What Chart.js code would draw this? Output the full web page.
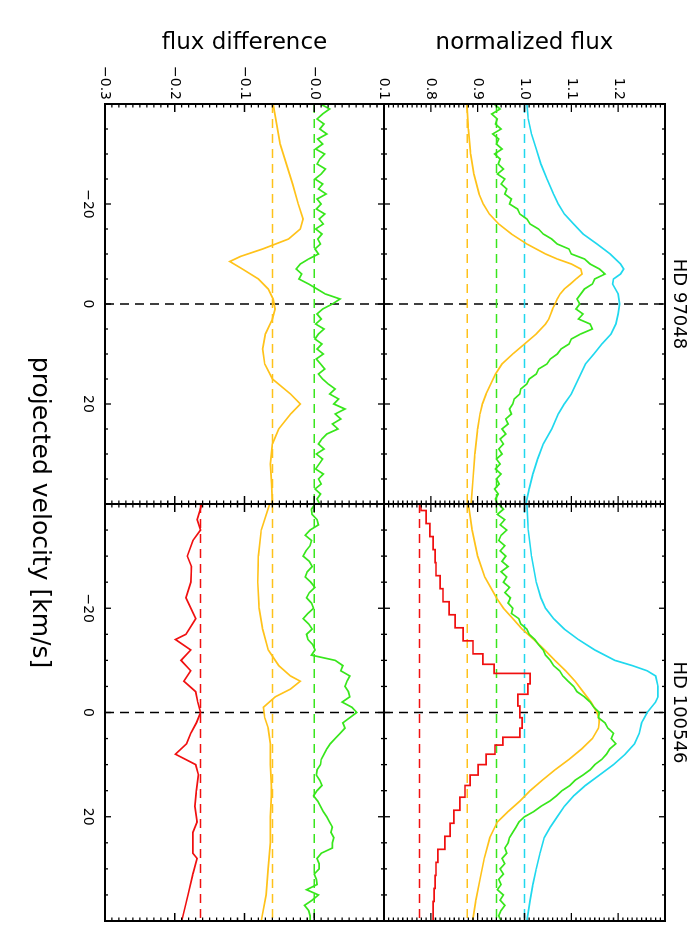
<!DOCTYPE html>
<html><head><meta charset="utf-8">
<script src="https://cdn.jsdelivr.net/npm/chart.js@4.4.0/dist/chart.umd.min.js"></script>
<style>
html,body{margin:0;padding:0;background:#fff;width:700px;height:950px;overflow:hidden}
#wrap{position:absolute;left:0;top:0;width:950px;height:700px;transform-origin:0 0;transform:translate(700px,0) rotate(90deg);background:#fff}
#wrap canvas{position:absolute;left:0;top:0}
</style></head><body>
<div id="wrap">
<canvas id="cA" width="950" height="700"></canvas>
<canvas id="cB" width="950" height="700"></canvas>
<canvas id="cC" width="950" height="700"></canvas>
<canvas id="cD" width="950" height="700"></canvas>
<canvas id="cE" width="950" height="700"></canvas>
</div>
<script>
// ---------------- data ----------------
const VMIN = -40, VMAX = 40;
const STAR_LEFT = 'HD 97048', STAR_RIGHT = 'HD 100546';
const Y_TITLE_TOP = 'normalized flux', Y_TITLE_BOTTOM = 'flux difference';
const X_TITLE = 'projected velocity [km/s]';

const VEL1 = [-40,-39,-38,-37,-36,-35,-34,-33,-32,-31,-30,-29,-28,-27,-26,-25,-24,-23,-22,-21,-20,-19,-18,-17,-16,-15,-14,-13,-12,-11,-10,-9,-8,-7,-6,-5,-4,-3,-2,-1,0,1,2,3,4,5,6,7,8,9,10,11,12,13,14,15,16,17,18,19,20,21,22,23,24,25,26,27,28,29,30,31,32,33,34,35,36,37,38,39,40];

// HD 97048 normalized flux
const cyanA_v = [-40,-37,-34,-31,-28,-25,-22,-20,-18,-16,-14,-12,-10,-8,-7,-6,-5,-4,-2,0,2,4,6,8,10,12,14,16,18,20,22,25,28,31,34,37,40];
const cyanA_f = [1.005,1.008,1.015,1.025,1.035,1.048,1.062,1.072,1.085,1.105,1.125,1.155,1.183,1.205,1.212,1.205,1.19,1.188,1.200,1.203,1.200,1.195,1.185,1.165,1.148,1.130,1.120,1.110,1.100,1.085,1.072,1.058,1.040,1.028,1.018,1.010,1.003];
const greenA_f = [0.935,0.948,0.930,0.942,0.938,0.950,0.932,0.945,0.940,0.952,0.936,0.948,0.944,0.955,0.942,0.958,0.950,0.962,0.958,0.972,0.968,0.985,0.990,1.005,1.012,1.030,1.040,1.058,1.070,1.095,1.100,1.128,1.140,1.160,1.172,1.150,1.145,1.128,1.120,1.112,1.118,1.110,1.125,1.115,1.140,1.145,1.120,1.100,1.095,1.078,1.070,1.055,1.048,1.030,1.025,1.010,1.005,0.992,0.990,0.978,0.975,0.968,0.972,0.960,0.965,0.952,0.960,0.948,0.955,0.945,0.952,0.940,0.948,0.938,0.950,0.940,0.946,0.936,0.944,0.938,0.942];
const orangeA_v = [-40,-35,-30,-26,-22,-20,-18,-16,-14,-12,-10,-9,-8,-7,-6,-5,-4,-3,-2,-1,0,1,2,3,4,5,6,8,10,12,14,16,18,20,22,25,30,35,40];
const orangeA_f = [0.877,0.880,0.885,0.892,0.903,0.912,0.925,0.945,0.972,1.005,1.045,1.070,1.100,1.120,1.123,1.110,1.098,1.085,1.076,1.070,1.065,1.060,1.056,1.052,1.045,1.035,1.025,1.000,0.975,0.952,0.938,0.928,0.918,0.910,0.905,0.900,0.894,0.890,0.886];

// HD 100546 normalized flux
const cyanB_v = [-40,-35,-30,-25,-22,-20,-18,-16,-14,-12,-10,-9,-8,-7,-5,-3,-2,0,2,4,6,8,10,12,14,16,18,20,22,24,27,30,33,36,40];
const cyanB_f = [1.005,1.008,1.015,1.025,1.035,1.045,1.062,1.085,1.115,1.150,1.193,1.230,1.262,1.280,1.285,1.285,1.280,1.262,1.250,1.245,1.235,1.215,1.190,1.160,1.130,1.105,1.085,1.070,1.055,1.042,1.033,1.025,1.018,1.012,1.005];
const greenB_f = [0.945,0.955,0.942,0.958,0.948,0.962,0.950,0.945,0.958,0.948,0.960,0.952,0.965,0.950,0.962,0.955,0.968,0.958,0.970,0.965,0.975,0.972,0.988,0.992,1.005,1.010,1.022,1.030,1.040,1.045,1.055,1.062,1.075,1.082,1.093,1.105,1.112,1.128,1.140,1.148,1.160,1.158,1.172,1.178,1.190,1.185,1.195,1.182,1.175,1.165,1.150,1.140,1.125,1.108,1.097,1.080,1.068,1.054,1.035,1.020,1.000,0.988,0.982,0.975,0.968,0.965,0.958,0.962,0.952,0.958,0.948,0.955,0.945,0.950,0.942,0.955,0.948,0.958,0.950,0.945,0.950];
const orangeB_v = [-40,-35,-30,-26,-22,-20,-18,-16,-14,-12,-10,-8,-6,-4,-2,0,1.5,3,5,7,9,11,13,15,17,19,21,24,28,32,36,40];
const orangeB_f = [0.880,0.888,0.900,0.915,0.940,0.955,0.975,0.995,1.020,1.043,1.065,1.088,1.108,1.125,1.142,1.155,1.160,1.158,1.145,1.122,1.095,1.065,1.038,1.012,0.990,0.965,0.942,0.926,0.914,0.905,0.896,0.889];
const redB_v = [-40,-37.5,-35,-32.5,-30,-27.5,-25,-22.5,-20,-17.5,-15,-12.5,-10,-8.5,-6.5,-4.5,-2.5,0,2,4,5.5,7,9,11,13,15,17.5,20,22.5,25,27.5,30,32.5,35,37.5,40];
const redB_f = [0.779,0.790,0.798,0.805,0.809,0.811,0.820,0.826,0.839,0.852,0.869,0.890,0.911,0.935,1.012,1.007,0.986,0.990,0.995,0.990,0.954,0.937,0.918,0.901,0.884,0.873,0.862,0.849,0.841,0.830,0.815,0.811,0.809,0.807,0.805,0.805];

// HD 97048 flux difference
const greenC_d = [0.009,0.022,0.012,0.004,0.014,0.008,0.018,0.005,0.012,0.002,0.015,0.008,0.004,0.016,0.010,0.001,0.012,0.006,0.017,0.004,0.010,0.003,0.015,0.007,0.013,0.002,0.011,0.005,0.009,0.001,0.006,-0.008,-0.020,-0.026,-0.018,-0.022,-0.008,0.004,0.016,0.037,0.026,0.012,0.004,0.010,0.002,0.014,0.006,0.001,0.011,0.004,0.013,0.003,0.009,0.015,0.006,0.012,0.020,0.030,0.022,0.035,0.028,0.044,0.030,0.038,0.026,0.034,0.018,0.011,0.006,0.014,0.003,0.012,0.007,0.002,0.013,0.006,0.010,0.001,0.009,0.004,0.008];
const orangeC_v = [-40,-36,-32,-28,-24,-20,-17,-15,-13,-11,-9.5,-8.5,-7,-5,-3,-1,1,3,6,9,12,15,18,20,22,25,28,32,36,40];
const orangeC_d = [-0.059,-0.054,-0.049,-0.040,-0.031,-0.023,-0.016,-0.020,-0.037,-0.074,-0.106,-0.121,-0.103,-0.080,-0.066,-0.059,-0.056,-0.060,-0.070,-0.074,-0.071,-0.060,-0.034,-0.020,-0.034,-0.051,-0.060,-0.063,-0.061,-0.060];

// HD 100546 flux difference
const greenD_d = [0.001,-0.004,-0.003,0.004,0.006,-0.006,-0.013,-0.004,-0.006,-0.012,-0.016,-0.007,-0.003,-0.010,-0.013,-0.005,0.001,-0.007,-0.011,-0.004,-0.001,-0.009,-0.016,-0.008,-0.003,-0.011,-0.009,-0.002,0.001,-0.004,0.030,0.041,0.038,0.051,0.047,0.044,0.049,0.051,0.040,0.054,0.061,0.051,0.041,0.044,0.037,0.030,0.023,0.018,0.014,0.010,0.009,0.004,0.003,0.008,0.011,0.004,-0.001,0.005,0.009,0.013,0.018,0.022,0.026,0.024,0.028,0.026,0.026,0.010,0.004,0.007,0.007,0.000,0.003,0.004,-0.011,0.006,-0.003,-0.014,-0.008,-0.006,-0.006];
const orangeD_v = [-40,-35,-30,-25,-20,-16,-12,-9,-7,-6,-4.5,-3,-1,1,3,6,10,15,20,25,30,35,40];
const orangeD_d = [-0.064,-0.076,-0.080,-0.081,-0.079,-0.074,-0.066,-0.051,-0.034,-0.020,-0.034,-0.056,-0.073,-0.071,-0.066,-0.063,-0.063,-0.061,-0.063,-0.063,-0.066,-0.069,-0.076];
const redD_v = [-40,-37,-35,-33,-30,-28,-25,-22,-18,-15,-14,-12,-10,-8,-6,-4,-2,0,2,4,6,8,10,12,15,18,21,23,27,28,31,35,40];
const redD_d = [-0.161,-0.168,-0.163,-0.174,-0.182,-0.176,-0.177,-0.184,-0.170,-0.184,-0.199,-0.177,-0.191,-0.177,-0.187,-0.170,-0.167,-0.163,-0.169,-0.177,-0.183,-0.199,-0.170,-0.166,-0.169,-0.171,-0.168,-0.174,-0.174,-0.168,-0.174,-0.181,-0.190];

// continuum / reference levels
const refTop = { cyan: 1.0, green: 0.94, orange: 0.878, red: 0.776 };
const refBottom = { green: 0.0, orange: -0.06, red: -0.163 };
const FLUX_RANGE = [0.7, 1.3], DIFF_RANGE = [-0.3, 0.1];

// ---------------- styling ----------------
const COL = { cyan: '#20d8ee', green: '#38e61c', orange: '#ffc21a', red: '#f01010' };
Chart.defaults.font.family = "'DejaVu Sans', sans-serif";
Chart.defaults.color = '#000';
Chart.defaults.animation = false;
Chart.defaults.events = [];
Chart.defaults.plugins.legend.display = false;
Chart.defaults.plugins.tooltip.enabled = false;

function pts(vs, ys) { return vs.map((v, i) => ({ x: v, y: ys[i] })); }
function curve(vs, ys, color, extra) {
  return Object.assign({ data: pts(vs, ys), borderColor: color, borderWidth: 1.7, pointRadius: 0, fill: false, tension: 0 }, extra || {});
}
function hline(y, color) {
  return { data: [{ x: VMIN, y: y }, { x: VMAX, y: y }], borderColor: color, borderWidth: 1.5, borderDash: [9, 6], pointRadius: 0 };
}
function vzero(r) {
  return { data: [{ x: 0, y: r[0] }, { x: 0, y: r[1] }], borderColor: '#000', borderWidth: 1.5, borderDash: [9, 6], pointRadius: 0 };
}
const isMajor01 = v => Math.abs(v * 10 - Math.round(v * 10)) < 1e-6;
const minus = s => s.replace('-', '\u2212');

const framePlugin = {
  id: 'idlFrame',
  afterDatasetsDraw(chart, args, o) {
    const { ctx, chartArea: a } = chart;
    const xs = chart.scales.x, ys = chart.scales.y;
    ctx.save();
    ctx.strokeStyle = '#000';
    ctx.lineWidth = 1.3;
    ctx.beginPath();
    xs.ticks.forEach(t => {
      const p = xs.getPixelForValue(t.value);
      const L = (Math.abs(t.value % 20) < 1e-6) ? o.xMajor : o.xMinor;
      ctx.moveTo(p, a.bottom); ctx.lineTo(p, a.bottom - L);
      ctx.moveTo(p, a.top); ctx.lineTo(p, a.top + L);
    });
    ys.ticks.forEach(t => {
      const p = ys.getPixelForValue(t.value);
      const L = isMajor01(t.value) ? o.yMajor : o.yMinor;
      ctx.moveTo(a.left, p); ctx.lineTo(a.left + L, p);
      ctx.moveTo(a.right, p); ctx.lineTo(a.right - L, p);
    });
    ctx.stroke();
    ctx.lineWidth = 2;
    ctx.strokeRect(a.left, a.top, a.right - a.left, a.bottom - a.top);
    ctx.restore();
  }
};

function velLabel(v) {
  if (Math.abs(v) >= 40 || v % 20 !== 0) return '';
  return v < 0 ? '\u2212' + Math.abs(v) : String(v);
}
function fluxLabel(v) {
  if (!isMajor01(v)) return '';
  const k = Math.round(v * 10);
  if (k <= 7 || k >= 13) return '';
  return (k / 10).toFixed(1);
}
function diffLabel(v) {
  if (!isMajor01(v)) return '';
  const k = Math.round(v * 10);
  if (k === 0) return '\u22120.0';
  return minus((k / 10).toFixed(1));
}

function panel(id, c) {
  return new Chart(document.getElementById(id), {
    type: 'line',
    data: { datasets: c.datasets },
    plugins: [framePlugin],
    options: {
      responsive: false,
      layout: { padding: c.padding },
      plugins: {
        title: c.title ? { display: true, text: c.title, fullSize: false, color: '#000',
          font: { size: 18, weight: 'normal' }, padding: { top: 10.2, bottom: 3.2 } } : { display: false },
        idlFrame: { xMajor: 6, xMinor: 3, yMajor: 8, yMinor: 3.5 }
      },
      scales: {
        x: {
          type: 'linear', min: VMIN, max: VMAX,
          grid: { display: false, drawTicks: false }, border: { display: false },
          ticks: { display: c.xLabels, stepSize: 5, autoSkip: false, maxRotation: 0, minRotation: 0,
            padding: 8.6, font: { size: 14 }, callback: velLabel },
          afterFit: s => { s.height = c.xh; }
        },
        y: {
          type: 'linear', min: c.yr[0], max: c.yr[1],
          grid: { display: false, drawTicks: false }, border: { display: false },
          ticks: { display: !!c.yLabel, stepSize: 0.01, maxTicksLimit: 1000, autoSkip: false,
            padding: 4, font: { size: 14 }, callback: c.yLabel || (() => '') },
          title: { display: !!c.yTitle, text: c.yTitle || '', font: { size: 23 }, padding: { top: 4, bottom: 0 } },
          afterFit: s => { s.width = c.yw; }
        }
      }
    }
  });
}

panel('cA', {
  title: STAR_LEFT, yr: FLUX_RANGE, yTitle: Y_TITLE_TOP, yLabel: fluxLabel, xLabels: false,
  padding: { left: 25.2, right: 446, top: 0, bottom: 384 }, xh: 0, yw: 78.8,
  datasets: [
    curve(cyanA_v, cyanA_f, COL.cyan),
    curve(VEL1, greenA_f, COL.green),
    curve(orangeA_v, orangeA_f, COL.orange),
    hline(refTop.cyan, COL.cyan), hline(refTop.green, COL.green), hline(refTop.orange, COL.orange),
    vzero(FLUX_RANGE)
  ]
});
panel('cB', {
  title: STAR_RIGHT, yr: FLUX_RANGE, yTitle: null, yLabel: null, xLabels: false,
  padding: { left: 504, right: 29, top: 0, bottom: 384 }, xh: 0, yw: 0,
  datasets: [
    curve(cyanB_v, cyanB_f, COL.cyan),
    curve(VEL1, greenB_f, COL.green),
    curve(orangeB_v, orangeB_f, COL.orange),
    curve(redB_v, redB_f, COL.red, { stepped: 'middle' }),
    hline(refTop.cyan, COL.cyan), hline(refTop.green, COL.green), hline(refTop.orange, COL.orange), hline(refTop.red, COL.red),
    vzero(FLUX_RANGE)
  ]
});
panel('cC', {
  title: null, yr: DIFF_RANGE, yTitle: Y_TITLE_BOTTOM, yLabel: diffLabel, xLabels: true,
  padding: { left: 25.2, right: 446, top: 316, bottom: 75 }, xh: 30, yw: 78.8,
  datasets: [
    curve(VEL1, greenC_d, COL.green),
    curve(orangeC_v, orangeC_d, COL.orange),
    hline(refBottom.green, COL.green), hline(refBottom.orange, COL.orange),
    vzero(DIFF_RANGE)
  ]
});
panel('cD', {
  title: null, yr: DIFF_RANGE, yTitle: null, yLabel: null, xLabels: true,
  padding: { left: 504, right: 29, top: 316, bottom: 75 }, xh: 30, yw: 0,
  datasets: [
    curve(VEL1, greenD_d, COL.green),
    curve(orangeD_v, orangeD_d, COL.orange),
    curve(redD_v, redD_d, COL.red),
    hline(refBottom.green, COL.green), hline(refBottom.orange, COL.orange), hline(refBottom.red, COL.red),
    vzero(DIFF_RANGE)
  ]
});
// shared x-axis title spanning both columns
new Chart(document.getElementById('cE'), {
  type: 'line',
  data: { datasets: [] },
  options: {
    responsive: false,
    layout: { padding: { left: 104, right: 29, top: 0, bottom: 25 } },
    scales: {
      x: { type: 'linear', min: VMIN, max: VMAX, grid: { display: false, drawTicks: false }, border: { display: false },
        ticks: { display: false }, title: { display: true, text: X_TITLE, font: { size: 25 }, padding: { top: 0, bottom: 0 } } },
      y: { display: false }
    }
  }
});
</script>
</body></html>
